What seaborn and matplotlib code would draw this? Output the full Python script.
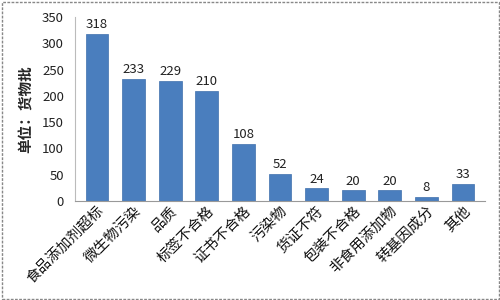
import matplotlib
matplotlib.use("Agg")
import matplotlib.pyplot as plt
import seaborn as sns
import pandas as pd
from matplotlib.patches import Rectangle

categories = ["食品添加剂超标", "微生物污染", "品质", "标签不合格", "证书不合格",
              "污染物", "货证不符", "包装不合格", "非食用添加物", "转基因成分", "其他"]
values = [318, 233, 229, 210, 108, 52, 24, 20, 20, 8, 33]
yticks = [0, 50, 100, 150, 200, 250, 300, 350]

sns.set_style("white")
plt.rcParams['font.family'] = ['Noto Sans CJK SC', 'DejaVu Sans']

df = pd.DataFrame({"cat": categories, "val": values})
fig = plt.figure(figsize=(5, 3), dpi=100)
ax = fig.add_axes([0.15, 0.33, 0.82, 0.613])
sns.barplot(data=df, x="cat", y="val", color="#4A7EBE", saturation=1, width=0.62, ax=ax)
for p in ax.patches:
    p.set_edgecolor("#3F6FAD")
    p.set_linewidth(0.5)
for c in ax.containers:
    ax.bar_label(c, fontsize=9.5, padding=2, color="#222222")
ax.set_ylim(0, 350)
ax.set_yticks(yticks)
ax.set_xlim(-0.6, len(categories) - 0.4)
ax.tick_params(axis='y', labelsize=9.5, length=0, pad=8, colors="#222222")
ax.tick_params(axis='x', labelsize=10.5, length=0, pad=2, colors="#111111")
plt.setp(ax.get_xticklabels(), rotation=45, ha='right', rotation_mode='anchor')
ax.set_xlabel("")
ax.set_ylabel("单位：货物批", fontsize=10.5, fontweight='bold', labelpad=6)
for s in ["top", "right"]:
    ax.spines[s].set_visible(False)
ax.spines["left"].set_color("#BBBBBB")
ax.spines["bottom"].set_color("#999999")
ax.spines["bottom"].set_linestyle((0, (2, 1)))
fig.patches.append(Rectangle((0.003, 0.005), 0.994, 0.99, transform=fig.transFigure,
                             fill=False, edgecolor="#888888", linestyle=(0, (2, 1)), linewidth=1))
fig.savefig("out.png", dpi=100)
